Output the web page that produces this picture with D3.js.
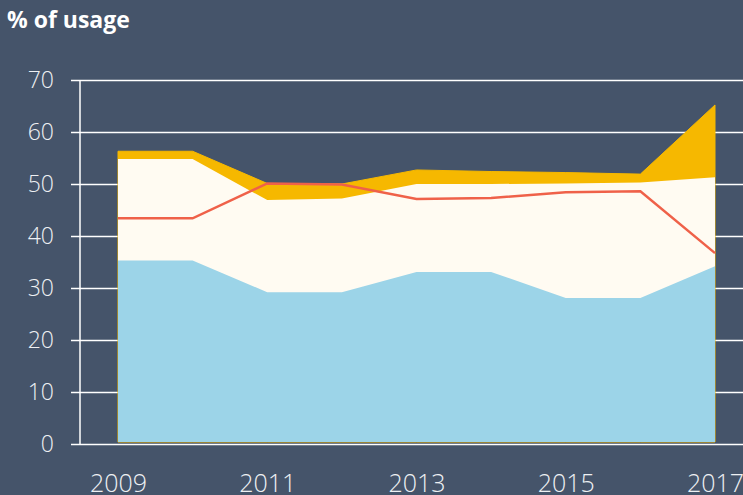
<!DOCTYPE html>
<html>
<head>
<meta charset="utf-8">
<script src="https://cdn.jsdelivr.net/npm/d3@7"></script>
<style>
  html, body { margin: 0; padding: 0; background: #45546a; }
  svg { display: block; }
  .title { font-family: "Open Sans", sans-serif; font-weight: 700; font-size: 23px; fill: #ffffff; }
  .tick text { font-family: "Open Sans", sans-serif; font-weight: 300; font-size: 23px; fill: #eef0f3; }
  .x-axis .tick text { font-size: 25px; }
</style>
</head>
<body>
<div id="chart"></div>
<script>
'use strict';

// values
const years = [2009, 2010, 2011, 2012, 2013, 2014, 2015, 2016, 2017];
const blueVals  = [35.3, 35.3, 29.2, 29.2, 33.1, 33.1, 28.1, 28.1, 34.2];
const creamVals = [54.8, 54.8, 46.9, 47.2, 50.0, 50.0, 50.1, 50.3, 51.3];
const goldVals  = [56.3, 56.3, 50.1, 50.0, 52.7, 52.4, 52.2, 51.9, 65.2];
const redVals   = [43.4, 43.4, 50.1, 49.9, 47.1, 47.3, 48.4, 48.6, 36.7];
const yTicks = [0, 10, 20, 30, 40, 50, 60, 70];
const xTicks = [2009, 2011, 2013, 2015, 2017];

const W = 743, H = 495;
const margin = {top: 80, bottom: 51, left: 118, right: 28};  // plot area for the data
const axisX = 80, gridStart = 71;

const svg = d3.select('#chart').append('svg')
    .attr('width', W)
    .attr('height', H);

const x = d3.scaleLinear().domain([2009, 2017]).range([margin.left, W - margin.right]);
const y = d3.scaleLinear().domain([0, 70]).range([H - margin.bottom, margin.top]);

svg.append('text')
    .attr('class', 'title')
    .attr('x', 7)
    .attr('y', 28)
    .text('% of usage');

// gridlines + y labels
const gy = svg.append('g')
    .attr('transform', `translate(${gridStart},0)`)
    .call(d3.axisLeft(y).tickValues(yTicks).tickSize(-(W - gridStart)).tickPadding(17));
gy.select('.domain').remove();
gy.selectAll('.tick line').attr('stroke', '#ffffff').attr('stroke-width', 1.5);

// vertical axis line
svg.append('line')
    .attr('x1', axisX).attr('x2', axisX)
    .attr('y1', y(70)).attr('y2', y(0))
    .attr('stroke', '#ffffff').attr('stroke-width', 1.5);

// x labels (cut by the bottom edge, as in the original)
const gx = svg.append('g')
    .attr('class', 'x-axis')
    .attr('transform', `translate(0,${y(0)})`)
    .call(d3.axisBottom(x).tickValues(xTicks).tickSize(0).tickFormat(d3.format('d')));
gx.select('.domain').remove();
gx.selectAll('.tick text').attr('y', 48).attr('dy', 0);

// areas (each from baseline, drawn back to front)
const base = y(0) - 2;
const area = vals => d3.area()
    .x((d, i) => x(years[i]))
    .y0(base)
    .y1(d => y(d))(vals);

svg.append('path').attr('d', area(goldVals))
    .attr('fill', '#f6b800').attr('stroke', '#f6b800').attr('stroke-width', 1);
svg.append('path').attr('d', area(creamVals))
    .attr('fill', '#fffbf2');
svg.append('path').attr('d', area(blueVals))
    .attr('fill', '#9cd4e8');

// red line
svg.append('path')
    .attr('d', d3.line().x((d, i) => x(years[i])).y(d => y(d))(redVals))
    .attr('fill', 'none')
    .attr('stroke', '#ef6149')
    .attr('stroke-width', 2.5);
</script>
</body>
</html>
